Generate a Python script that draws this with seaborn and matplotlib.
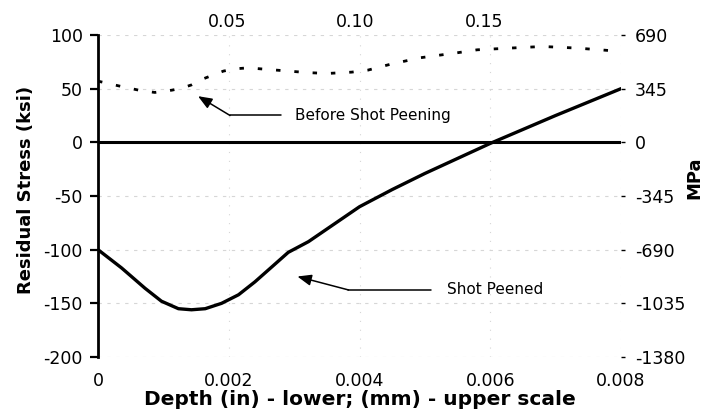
import numpy as np
import pandas as pd
import matplotlib
matplotlib.use("Agg")
import matplotlib.pyplot as plt
import seaborn as sns

# ---- data ----
before_depth = [0.0, 0.00036, 0.00067, 0.00087, 0.00113, 0.00128, 0.00143, 0.00159, 0.00176,
                0.00192, 0.0021, 0.0023, 0.0026, 0.00291, 0.00322, 0.00352, 0.00388, 0.00413,
                0.00447, 0.00493, 0.00549, 0.0058, 0.0063, 0.0068, 0.00733, 0.0080]
before_ksi = [57, 52, 48, 46.5, 48.6, 50.5, 53.5, 58.7, 62.7,
              66.4, 68.5, 69.4, 67.9, 66.4, 64.9, 64.2, 65.4, 67.3,
              72.7, 78.8, 83.4, 86.2, 87.8, 89.3, 87.8, 84.7]

peened_depth = [0.0, 0.00036, 0.00072, 0.00097, 0.00123, 0.00143, 0.00164, 0.00189, 0.00215,
                0.0024, 0.00266, 0.00291, 0.00322, 0.00352, 0.0040, 0.0045, 0.0050, 0.0055,
                0.0060, 0.0070, 0.0080]
peened_ksi = [-100, -117, -136, -148, -155, -156, -155, -150, -142,
              -130, -116, -102.5, -92.5, -80, -60, -44, -29, -15,
              -1, 25, 50]

x_ticks = [0, 0.002, 0.004, 0.006, 0.008]
x_ticklabels = ["0", "0.002", "0.004", "0.006", "0.008"]
y_ticks = [-200, -150, -100, -50, 0, 50, 100]
mm_ticks = [0.05, 0.10, 0.15]
mm_ticklabels = ["0.05", "0.10", "0.15"]
mpa_ticks = [690, 345, 0, -345, -690, -1035, -1380]

df = pd.concat([
    pd.DataFrame({"depth": before_depth, "ksi": before_ksi, "series": "Before Shot Peening"}),
    pd.DataFrame({"depth": peened_depth, "ksi": peened_ksi, "series": "Shot Peened"}),
])

sns.set_theme(style="white")
plt.rcParams["font.family"] = ["DejaVu Sans"]
plt.rcParams["axes.unicode_minus"] = False
plt.rcParams["text.color"] = "black"
plt.rcParams["axes.labelcolor"] = "black"
plt.rcParams["xtick.color"] = "black"
plt.rcParams["ytick.color"] = "black"

fig = plt.figure(figsize=(7.18, 4.15), dpi=100)
L, R, T, B = 98, 621, 35, 357
ax = fig.add_axes([L / 718, 1 - B / 415, (R - L) / 718, (B - T) / 415])

# faint grid
for y in y_ticks:
    ax.axhline(y, color="#d6d6d6", lw=0.8, ls=(0, (3, 5)), zorder=0)
for x in x_ticks[1:]:
    ax.axvline(x, color="#d6d6d6", lw=0.8, ls=(0, (1, 7)), zorder=0)

ax.axhline(0, color="black", lw=2.2, zorder=2)

sns.lineplot(data=df[df.series == "Shot Peened"], x="depth", y="ksi", ax=ax,
             color="black", lw=2.4, legend=False, zorder=3)
sns.lineplot(data=df[df.series == "Before Shot Peening"], x="depth", y="ksi", ax=ax,
             color="black", lw=2.0, legend=False, zorder=3)
ax.lines[-1].set_linestyle((0, (1.6, 5.0)))
for ln in ax.lines[-2:]:
    ln.set_solid_joinstyle("round")

ax.set_xlim(0, 0.008)
ax.set_ylim(-200, 100)
ax.set_xticks(x_ticks)
ax.set_xticklabels(x_ticklabels)
ax.set_yticks(y_ticks)
ax.tick_params(axis="x", length=0, pad=11, labelsize=12.5)
ax.tick_params(axis="y", length=6, width=1.6, direction="out", left=True, pad=5, labelsize=12.5)
for s in ["top", "right", "bottom"]:
    ax.spines[s].set_visible(False)
ax.spines["left"].set_color("black")
ax.spines["left"].set_linewidth(2.0)

ax.set_xlabel("Depth (in) - lower; (mm) - upper scale", fontsize=14.5, fontweight="bold", labelpad=0)
ax.set_ylabel("Residual Stress (ksi)", fontsize=13, fontweight="bold")
ax.yaxis.set_label_coords(-0.12, 0.52)

top = ax.secondary_xaxis("top", functions=(lambda x: x * 25.4, lambda x: x / 25.4))
top.set_xticks(mm_ticks)
top.set_xticklabels(mm_ticklabels)
top.tick_params(length=0, pad=3, labelsize=12.5)
top.spines["top"].set_visible(False)

right = ax.secondary_yaxis("right", functions=(lambda y: y * 6.9, lambda y: y / 6.9))
right.set_yticks(mpa_ticks)
right.tick_params(length=3, width=1, pad=7, labelsize=12.5)
right.spines["right"].set_visible(False)
right.set_ylabel("MPa", fontsize=13, fontweight="bold", rotation=90)
right.yaxis.set_label_coords(1.124, 0.556, transform=ax.transAxes)

# annotations
arrow = dict(arrowstyle="-|>,head_length=0.7,head_width=0.28", color="black", lw=1.1,
             shrinkA=0, shrinkB=0)
ax.plot([0.0028, 0.00202], [25, 25], color="black", lw=1.1)
ax.annotate("", xy=(0.00153, 43), xytext=(0.00202, 25), arrowprops=arrow)
ax.text(0.00301, 25, "Before Shot Peening", fontsize=11, va="center", ha="left")

ax.plot([0.0051, 0.00383], [-137.5, -137.5], color="black", lw=1.1)
ax.annotate("", xy=(0.00305, -125), xytext=(0.00383, -137.5), arrowprops=arrow)
ax.text(0.00534, -137, "Shot Peened", fontsize=11, va="center", ha="left")

fig.savefig("out.png", dpi=100)
